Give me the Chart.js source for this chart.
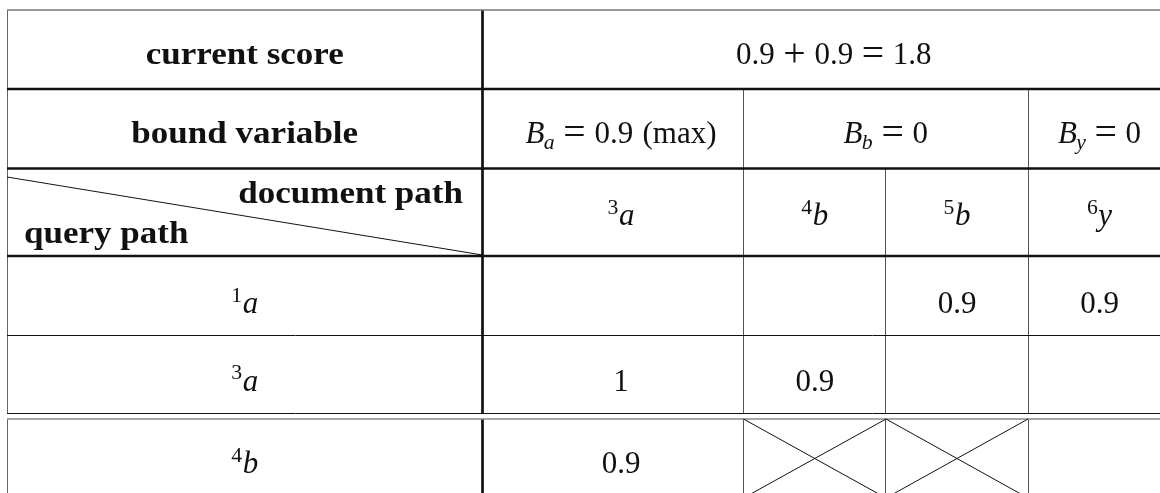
<!DOCTYPE html>
<html><head><meta charset="utf-8">
<script src="https://cdn.jsdelivr.net/npm/chart.js@4/dist/chart.umd.min.js"></script>
<style>html,body{margin:0;padding:0;background:#fff;overflow:hidden}canvas{display:block}</style>
</head><body>
<canvas id="c" width="1160" height="493"></canvas>
<script>
// ---------------- data ----------------
const rowHeaders = ['current score', 'bound variable'];
const scoreTerms = [0.9, 0.9];
const scoreTotal = 1.8;
const boundVarNames = ['a', 'b', 'y'];
const boundVarValues = ['0.9', '0', '0'];
const boundVarNotes = ['max', '', ''];
const boundVarSpans = [1, 2, 1];
const cornerLabels = ['document path', 'query path'];
const docPathIds = ['3', '4', '5', '6'];
const docPathLabels = ['a', 'b', 'b', 'y'];
const queryPathIds = ['1', '3', '4'];
const queryPathLabels = ['a', 'a', 'b'];
const scores1a = [null, null, 0.9, 0.9];
const scores3a = [1, 0.9, null, null];
const scores4b = [0.9, 'x', 'x', null];   // 'x' = crossed-out cell

// ---------------- layout / style ----------------
const LAYOUT = {
  padLeft: 7, padTop: 10,
  colWidths: [475.5, 261, 142.5, 142, 143],
  rowHeights: [79, 79.5, 87.5, 79, 78, 79],
  breakBefore: 5, breakGap: 6,
  colTextShift: [0, 8, 0, 0, 0],
  scoreShift: 7,
  baseOff: [14.5, 14.5, 13, 17.5, 16.5, 14.5],
  fontSize: 31,
  boldScale: 1.13
};
const RM = "'Liberation Serif', 'Times New Roman', serif";
const INK = '#111';

const colEdges = [0];
LAYOUT.colWidths.forEach(w => colEdges.push(colEdges[colEdges.length - 1] + w));
const rowTops = [], rowBots = [];
(function () {
  let y = 0;
  LAYOUT.rowHeights.forEach((h, i) => {
    if (i === LAYOUT.breakBefore) y += LAYOUT.breakGap;
    rowTops.push(y); rowBots.push(y + h); y += h;
  });
})();
const colCenter = c => (colEdges[c] + colEdges[c + 1]) / 2 + LAYOUT.colTextShift[c];
const rowCenter = r => (rowTops[r] + rowBots[r]) / 2;

const scoreRows = [scores1a, scores3a, scores4b];
const valuePoints = [];
scoreRows.forEach((row, r) => row.forEach((v, c) => {
  if (v !== null && v !== 'x') valuePoints.push({ x: colCenter(c + 1), y: rowCenter(r + 3), v: String(v), r: r + 3 });
}));

// ---------------- text helpers ----------------
function fontFor(r, size) {
  const s = size * (r.sc || 1);
  return (r.it ? 'italic ' : '') + (r.bf ? 'bold ' : '') + s + 'px ' + RM;
}
function runsWidth(ctx, runs, size) {
  let w = 0;
  for (const r of runs) { ctx.font = fontFor(r, size); w += (r.pre || 0) * size + ctx.measureText(r.t).width + (r.post || 0) * size; }
  return w;
}
function drawRuns(ctx, runs, x, baseline, size, align) {
  const w = runsWidth(ctx, runs, size);
  let cx = align === 'center' ? x - w / 2 : (align === 'right' ? x - w : x);
  ctx.textAlign = 'left'; ctx.textBaseline = 'alphabetic';
  for (const r of runs) {
    cx += (r.pre || 0) * size;
    ctx.font = fontFor(r, size);
    ctx.fillText(r.t, cx, baseline + (r.dy || 0) * size);
    cx += ctx.measureText(r.t).width + (r.post || 0) * size;
  }
}
const num = t => ({ t });
const op = t => ({ t, sc: 1.28, dy: 0.07, pre: 0.28, post: 0.28 });
const itl = t => ({ t, it: true });
const sup = t => ({ t, sc: 0.7, dy: -0.36, post: 0.02 });
const sub = t => ({ t, it: true, sc: 0.7, dy: 0.2, pre: -0.02 });

function drawBold(ctx, text, x, baseline, align) {
  ctx.save();
  ctx.translate(x, baseline);
  ctx.scale(LAYOUT.boldScale, 1);
  ctx.font = 'bold ' + LAYOUT.fontSize + 'px ' + RM;
  ctx.textAlign = align; ctx.textBaseline = 'alphabetic';
  ctx.fillText(text, 0, 0);
  ctx.restore();
}

// ---------------- table plugin ----------------
const tablePlugin = {
  id: 'tableGrid',
  afterDraw(chart) {
    const ctx = chart.ctx;
    const X = v => chart.scales.x.getPixelForValue(v);
    const Y = v => chart.scales.y.getPixelForValue(v);
    const fs = LAYOUT.fontSize;
    const nC = colEdges.length - 1;
    const lastCol = colEdges[nC];

    function hline(yu, x0, x1, w, col) {
      let y = Y(yu); if (w <= 1.2) y = Math.round(y - 0.5) + 0.5;
      ctx.beginPath(); ctx.moveTo(X(x0), y); ctx.lineTo(X(x1), y);
      ctx.lineWidth = w; ctx.strokeStyle = col; ctx.stroke();
    }
    function vline(xu, y0, y1, w, col) {
      let x = X(xu); if (w <= 1.2) x = Math.round(x - 0.5) + 0.5;
      ctx.beginPath(); ctx.moveTo(x, Y(y0)); ctx.lineTo(x, Y(y1));
      ctx.lineWidth = w; ctx.strokeStyle = col; ctx.stroke();
    }
    ctx.save();
    ctx.lineCap = 'butt';
    const b = LAYOUT.breakBefore;
    const upperBottom = rowBots[b - 1], lowerTop = rowTops[b], lowerBottom = rowBots[b];
    // vertical rules (two segments: above and below the break)
    [[rowTops[0], upperBottom], [lowerTop, lowerBottom]].forEach(([a, z]) => {
      vline(colEdges[0], a, z, 1, '#666');
      vline(colEdges[1], a, z, 2.7, INK);
      vline(colEdges[2], Math.max(a, rowTops[1]), z, 1, '#555');
      vline(colEdges[3], Math.max(a, rowTops[2]), z, 1, '#555');
      vline(colEdges[4], Math.max(a, rowTops[1]), z, 1, '#555');
    });
    // horizontal rules
    hline(rowTops[0], 0, lastCol, 1.7, '#7a7a7a');
    hline(rowTops[1], 0, lastCol, 2.6, INK);
    hline(rowTops[2], 0, lastCol, 2.6, INK);
    hline(rowTops[3], 0, lastCol, 2.6, INK);
    hline(rowTops[4], 0, lastCol, 1, INK);
    hline(upperBottom, 0, lastCol, 1, INK);
    hline(lowerTop, 0, lastCol, 1.7, '#8a8a8a');
    // diagonal in the corner cell
    ctx.beginPath();
    ctx.moveTo(X(colEdges[0]), Y(rowTops[2] + 8.5));
    ctx.lineTo(X(colEdges[1]), Y(rowBots[2] - 1));
    ctx.lineWidth = 1; ctx.strokeStyle = INK; ctx.stroke();
    // crossed cells
    scores4b.forEach((v, c) => {
      if (v !== 'x') return;
      const x0 = X(colEdges[c + 1]), x1 = X(colEdges[c + 2]);
      const y0 = Y(rowTops[b]), y1 = Y(rowBots[b]);
      ctx.beginPath(); ctx.moveTo(x0, y0); ctx.lineTo(x1, y1);
      ctx.moveTo(x0, y1); ctx.lineTo(x1, y0);
      ctx.lineWidth = 1; ctx.strokeStyle = INK; ctx.stroke();
    });

    ctx.fillStyle = INK;
    const labelX = X((colEdges[0] + colEdges[1]) / 2);
    // row 0: current score
    drawBold(ctx, rowHeaders[0], labelX, Y(rowCenter(0)) + LAYOUT.baseOff[0], 'center');
    const scoreRuns = [];
    scoreTerms.forEach((t, i) => { if (i) scoreRuns.push(op('+')); scoreRuns.push(num(String(t))); });
    scoreRuns.push(op('='), num(String(scoreTotal)));
    drawRuns(ctx, scoreRuns, X((colEdges[1] + lastCol) / 2 + LAYOUT.scoreShift), Y(rowCenter(0)) + LAYOUT.baseOff[0], fs, 'center');
    // row 1: bound variables
    drawBold(ctx, rowHeaders[1], labelX, Y(rowCenter(1)) + LAYOUT.baseOff[1], 'center');
    let c = 1;
    boundVarNames.forEach((n, i) => {
      const span = boundVarSpans[i];
      let cx = (colEdges[c] + colEdges[c + span]) / 2;
      if (span === 1) cx += LAYOUT.colTextShift[c];
      const runs = [itl('B'), sub(n), op('='), num(boundVarValues[i])];
      if (boundVarNotes[i]) runs.push({ t: '(' + boundVarNotes[i] + ')', pre: 0.3 });
      drawRuns(ctx, runs, X(cx), Y(rowCenter(1)) + LAYOUT.baseOff[1], fs, 'center');
      c += span;
    });
    // row 2: header with diagonal
    drawBold(ctx, cornerLabels[0], X(colEdges[1]) - 19.5, Y(rowTops[2]) + 34.5, 'right');
    drawBold(ctx, cornerLabels[1], X(colEdges[0]) + 17, Y(rowTops[2]) + 74.5, 'left');
    docPathIds.forEach((id, i) => {
      drawRuns(ctx, [sup(id), itl(docPathLabels[i])], X(colCenter(i + 1)), Y(rowCenter(2)) + LAYOUT.baseOff[2], fs, 'center');
    });
    // query path labels
    queryPathIds.forEach((id, i) => {
      const r = i + 3;
      drawRuns(ctx, [sup(id), itl(queryPathLabels[i])], labelX, Y(rowCenter(r)) + LAYOUT.baseOff[r], fs, 'center');
    });
    // values (from dataset elements placed by the scales)
    const meta = chart.getDatasetMeta(0);
    meta.data.forEach((el, i) => {
      const p = chart.data.datasets[0].data[i];
      drawRuns(ctx, [num(p.v)], el.x, el.y + LAYOUT.baseOff[p.r], fs, 'center');
    });
    ctx.restore();
  }
};

const totalW = 1160 - LAYOUT.padLeft;
const totalH = 493 - LAYOUT.padTop;

new Chart(document.getElementById('c'), {
  type: 'scatter',
  data: { datasets: [{ data: valuePoints, pointRadius: 0, pointHoverRadius: 0, showLine: false }] },
  options: {
    responsive: false,
    animation: false,
    events: [],
    layout: { padding: { left: LAYOUT.padLeft, top: LAYOUT.padTop, right: 0, bottom: 0 } },
    plugins: { legend: { display: false }, tooltip: { enabled: false }, title: { display: false } },
    scales: {
      x: { type: 'linear', min: 0, max: totalW, display: false },
      y: { type: 'linear', min: 0, max: totalH, reverse: true, display: false }
    }
  },
  plugins: [tablePlugin]
});
</script>
</body></html>
